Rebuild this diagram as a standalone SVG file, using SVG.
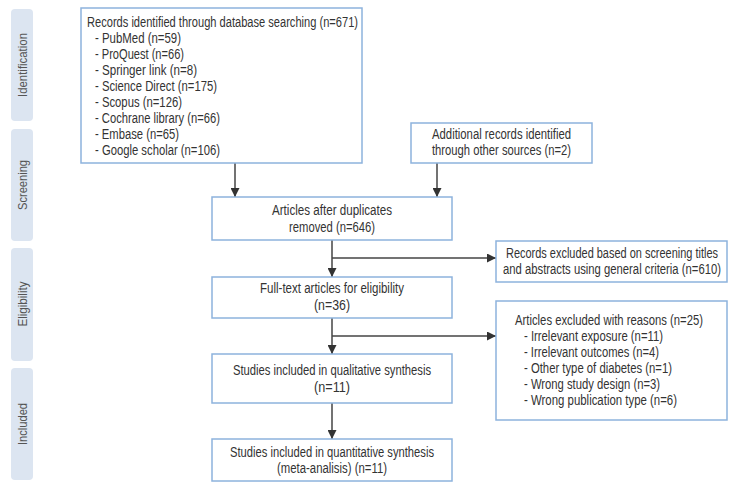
<svg xmlns="http://www.w3.org/2000/svg" width="736" height="490" viewBox="0 0 736 490">
<defs>
<style>
.side{fill:#dce5f1;}
.sl{font-family:"Liberation Sans",Arial,sans-serif;font-size:13.5px;fill:#555;text-anchor:middle;}
.box{fill:#fff;stroke:#8db3dd;stroke-width:1.5;}
.t{font-family:"Liberation Sans",Arial,sans-serif;font-size:14px;fill:#333;}
.c{text-anchor:middle;}
.ln{stroke:#444;stroke-width:1.5;fill:none;}
</style>
<marker id="ah" viewBox="0 0 10 10" refX="10" refY="5" markerWidth="9" markerHeight="9" markerUnits="userSpaceOnUse" orient="auto">
<path d="M0,0 L10,5 L0,10 z" fill="#333"/>
</marker>
</defs>
<rect width="736" height="490" fill="#fff"/>
<g id="stages">
<rect class="side" x="11" y="9" width="22" height="112" rx="4"/>
<text class="sl" transform="translate(26.5,65) rotate(-90)" textLength="64" lengthAdjust="spacingAndGlyphs">Identification</text>
<rect class="side" x="11" y="129" width="22" height="112" rx="4"/>
<text class="sl" transform="translate(26.5,185) rotate(-90)" textLength="50" lengthAdjust="spacingAndGlyphs">Screening</text>
<rect class="side" x="11" y="248" width="22" height="113" rx="4"/>
<text class="sl" transform="translate(26.5,304) rotate(-90)" textLength="45" lengthAdjust="spacingAndGlyphs">Eligibility</text>
<rect class="side" x="11" y="368" width="22" height="112" rx="4"/>
<text class="sl" transform="translate(26.5,424) rotate(-90)" textLength="42" lengthAdjust="spacingAndGlyphs">Included</text>
</g>
<g id="connectors">
<line class="ln" x1="235" y1="163" x2="235" y2="197" marker-end="url(#ah)"/>
<line class="ln" x1="437" y1="163" x2="437" y2="197" marker-end="url(#ah)"/>
<line class="ln" x1="332" y1="240" x2="332" y2="277" marker-end="url(#ah)"/>
<line class="ln" x1="332" y1="258" x2="496" y2="258" marker-end="url(#ah)"/>
<line class="ln" x1="332" y1="318" x2="332" y2="354" marker-end="url(#ah)"/>
<line class="ln" x1="332" y1="336" x2="496" y2="336" marker-end="url(#ah)"/>
<line class="ln" x1="332" y1="403" x2="332" y2="439" marker-end="url(#ah)"/>
</g>
<g id="records">
<rect class="box" x="81" y="8" width="281" height="155"/>
<text class="t" x="87" y="27" textLength="271" lengthAdjust="spacingAndGlyphs">Records identified through database searching (n=671)</text>
<text class="t" x="95" y="43" textLength="86" lengthAdjust="spacingAndGlyphs">- PubMed (n=59)</text>
<text class="t" x="95" y="59" textLength="89" lengthAdjust="spacingAndGlyphs">- ProQuest (n=66)</text>
<text class="t" x="95" y="75" textLength="102" lengthAdjust="spacingAndGlyphs">- Springer link (n=8)</text>
<text class="t" x="95" y="91" textLength="122" lengthAdjust="spacingAndGlyphs">- Science Direct (n=175)</text>
<text class="t" x="95" y="107" textLength="87" lengthAdjust="spacingAndGlyphs">- Scopus (n=126)</text>
<text class="t" x="95" y="123" textLength="125" lengthAdjust="spacingAndGlyphs">- Cochrane library (n=66)</text>
<text class="t" x="95" y="139" textLength="84" lengthAdjust="spacingAndGlyphs">- Embase (n=65)</text>
<text class="t" x="95" y="155" textLength="125" lengthAdjust="spacingAndGlyphs">- Google scholar (n=106)</text>
</g>
<g id="additional">
<rect class="box" x="411" y="123" width="181" height="40"/>
<text class="t" x="432" y="139" textLength="139" lengthAdjust="spacingAndGlyphs">Additional records identified</text>
<text class="t" x="432" y="155" textLength="139" lengthAdjust="spacingAndGlyphs">through other sources (n=2)</text>
</g>
<g id="duplicates">
<rect class="box" x="212" y="197" width="240" height="43"/>
<text class="t c" x="332" y="215" textLength="120" lengthAdjust="spacingAndGlyphs">Articles after duplicates</text>
<text class="t c" x="332" y="232" textLength="86" lengthAdjust="spacingAndGlyphs">removed (n=646)</text>
</g>
<g id="excluded-screening">
<rect class="box" x="496" y="241" width="231" height="41"/>
<text class="t c" x="612" y="258" textLength="212" lengthAdjust="spacingAndGlyphs">Records excluded based on screening titles</text>
<text class="t c" x="612" y="274" textLength="218" lengthAdjust="spacingAndGlyphs">and abstracts using general criteria (n=610)</text>
</g>
<g id="fulltext">
<rect class="box" x="212" y="277" width="240" height="41"/>
<text class="t c" x="332" y="293" textLength="144" lengthAdjust="spacingAndGlyphs">Full-text articles for eligibility</text>
<text class="t c" x="332" y="310" textLength="36" lengthAdjust="spacingAndGlyphs">(n=36)</text>
</g>
<g id="excluded-reasons">
<rect class="box" x="496" y="301" width="231" height="119"/>
<text class="t" x="515" y="325" textLength="188" lengthAdjust="spacingAndGlyphs">Articles excluded with reasons (n=25)</text>
<text class="t" x="524" y="341" textLength="139" lengthAdjust="spacingAndGlyphs">- Irrelevant exposure (n=11)</text>
<text class="t" x="524" y="357" textLength="135" lengthAdjust="spacingAndGlyphs">- Irrelevant outcomes (n=4)</text>
<text class="t" x="524" y="373" textLength="148" lengthAdjust="spacingAndGlyphs">- Other type of diabetes (n=1)</text>
<text class="t" x="524" y="389" textLength="136" lengthAdjust="spacingAndGlyphs">- Wrong study design (n=3)</text>
<text class="t" x="524" y="405" textLength="153" lengthAdjust="spacingAndGlyphs">- Wrong publication type (n=6)</text>
</g>
<g id="qualitative">
<rect class="box" x="212" y="354" width="240" height="49"/>
<text class="t c" x="332" y="375" textLength="198" lengthAdjust="spacingAndGlyphs">Studies included in qualitative synthesis</text>
<text class="t c" x="332" y="392" textLength="36" lengthAdjust="spacingAndGlyphs">(n=11)</text>
</g>
<g id="quantitative">
<rect class="box" x="212" y="439" width="240" height="42"/>
<text class="t c" x="332" y="457" textLength="204" lengthAdjust="spacingAndGlyphs">Studies included in quantitative synthesis</text>
<text class="t c" x="332" y="473" textLength="110" lengthAdjust="spacingAndGlyphs">(meta-analisis) (n=11)</text>
</g>
</svg>
